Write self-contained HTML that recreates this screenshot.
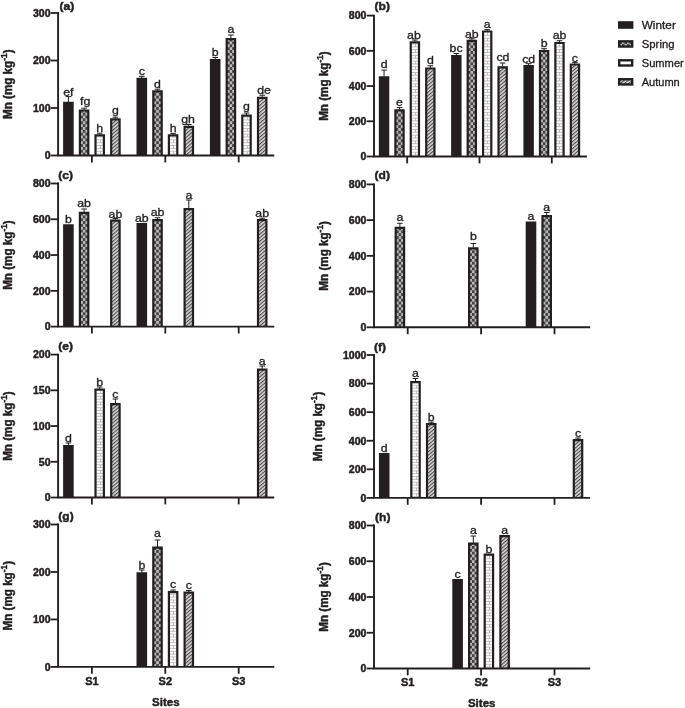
<!DOCTYPE html>
<html><head><meta charset="utf-8"><title>Mn concentration by site and season</title>
<style>html,body{margin:0;padding:0;background:#fff}svg{display:block;will-change:transform}text{font-family:"Liberation Sans",sans-serif;fill:#231f20;stroke:#231f20;stroke-width:0.32px;stroke-linejoin:round}.tk,.xl,.pl,.al{stroke-width:0.45px}.tk{font-size:10px;font-weight:bold;text-anchor:end}.xl{font-size:10px;font-weight:bold;text-anchor:middle}.pl{font-size:11.6px;font-weight:bold}.al{font-size:11.5px;font-weight:bold;text-anchor:middle}.lt{font-size:11.2px;text-anchor:middle}.lg{font-size:11.5px}</style></head><body>
<svg width="685" height="708" viewBox="0 0 685 708">
<defs>
<pattern id="pSpring" x="-1.275" y="0" width="5.1" height="5.7" patternUnits="userSpaceOnUse"><rect width="5.1" height="5.7" fill="#424242"/><rect x="0" y="0" width="2.55" height="2.85" fill="#b9b9b9"/><rect x="2.55" y="2.85" width="2.55" height="2.85" fill="#b9b9b9"/></pattern>
<pattern id="pSummer" x="-3" y="0" width="6" height="5.6" patternUnits="userSpaceOnUse"><rect width="6" height="5.6" fill="#fff"/><path d="M0 0.4H6M0 3.2H6" stroke="#909090" stroke-width="0.8" fill="none"/><path d="M3 0.4V3.2M0 3.2V5.6M6 3.2V5.6" stroke="#909090" stroke-width="0.8" fill="none"/></pattern>
<pattern id="pAutumn" width="2.7" height="2.7" patternUnits="userSpaceOnUse" patternTransform="rotate(-40)"><rect width="2.7" height="2.7" fill="#d8d8d8"/><rect width="2.7" height="1.1" fill="#4a4a4a"/></pattern>
</defs>
<rect width="685" height="708" fill="#fff"/>
<g>
<g>
<path d="M68.4 102.2V96.6M65.6 96.6H71.2" stroke="#231f20" stroke-width="1.0" fill="none"/>
<g transform="translate(68.4 155.5)"><rect x="-4.2" y="-52.7" width="8.4" height="52.7" fill="#231f20"/><path d="M-4.2 0V-52.7H4.2V0" fill="none" stroke="#231f20" stroke-width="2.2"/></g>
<text class="lt" transform="translate(68.4 95.9) scale(1.1 1)">ef</text>
<path d="M84.1 109.9V108.2M81.3 108.2H86.9" stroke="#231f20" stroke-width="1.0" fill="none"/>
<g transform="translate(84.1 155.5)"><rect x="-4.2" y="-45" width="8.4" height="45" fill="url(#pSpring)"/><path d="M-4.2 0V-45H4.2V0" fill="none" stroke="#231f20" stroke-width="2.2"/></g>
<text class="lt" transform="translate(85.1 105.25) scale(1.1 1)">fg</text>
<path d="M99.7 134.7V133.2M96.9 133.2H102.5" stroke="#231f20" stroke-width="1.0" fill="none"/>
<g transform="translate(99.7 155.5)"><rect x="-4.2" y="-20.2" width="8.4" height="20.2" fill="#fff"/><path d="M-4.2 -1.4H4.2M0.8 -1.4V-4.25M-4.2 -4.25H4.2M-4.2 -7.1H4.2M0.8 -7.1V-9.95M-4.2 -9.95H4.2M-4.2 -12.8H4.2M0.8 -12.8V-15.65M-4.2 -15.65H4.2M-4.2 -18.5H4.2M0.8 -18.5V-19.1" stroke="#b0b0b0" stroke-width="0.8" fill="none"/><path d="M-4.2 0V-20.2H4.2V0" fill="none" stroke="#231f20" stroke-width="2.2"/></g>
<text class="lt" transform="translate(99.7 131.5) scale(1.1 1)">h</text>
<path d="M115.4 118.7V117.2M112.6 117.2H118.2" stroke="#231f20" stroke-width="1.0" fill="none"/>
<g transform="translate(115.4 155.5)"><rect x="-4.2" y="-36.2" width="8.4" height="36.2" fill="url(#pAutumn)"/><path d="M-4.2 0V-36.2H4.2V0" fill="none" stroke="#231f20" stroke-width="2.2"/></g>
<text class="lt" transform="translate(115.4 114) scale(1.1 1)">g</text>
<path d="M141.8 78.3V76.3M139 76.3H144.6" stroke="#231f20" stroke-width="1.0" fill="none"/>
<g transform="translate(141.8 155.5)"><rect x="-4.2" y="-76.6" width="8.4" height="76.6" fill="#231f20"/><path d="M-4.2 0V-76.6H4.2V0" fill="none" stroke="#231f20" stroke-width="2.2"/></g>
<text class="lt" transform="translate(141.8 75.1) scale(1.1 1)">c</text>
<path d="M157.5 90.7V89.2M154.7 89.2H160.3" stroke="#231f20" stroke-width="1.0" fill="none"/>
<g transform="translate(157.5 155.5)"><rect x="-4.2" y="-64.2" width="8.4" height="64.2" fill="url(#pSpring)"/><path d="M-4.2 0V-64.2H4.2V0" fill="none" stroke="#231f20" stroke-width="2.2"/></g>
<text class="lt" transform="translate(157.5 88) scale(1.1 1)">d</text>
<path d="M173.1 134.7V133.4M170.3 133.4H175.9" stroke="#231f20" stroke-width="1.0" fill="none"/>
<g transform="translate(173.1 155.5)"><rect x="-4.2" y="-20.2" width="8.4" height="20.2" fill="#fff"/><path d="M-4.2 -1.4H4.2M0.4 -1.4V-4.25M-4.2 -4.25H4.2M-4.2 -7.1H4.2M0.4 -7.1V-9.95M-4.2 -9.95H4.2M-4.2 -12.8H4.2M0.4 -12.8V-15.65M-4.2 -15.65H4.2M-4.2 -18.5H4.2M0.4 -18.5V-19.1" stroke="#b0b0b0" stroke-width="0.8" fill="none"/><path d="M-4.2 0V-20.2H4.2V0" fill="none" stroke="#231f20" stroke-width="2.2"/></g>
<text class="lt" transform="translate(173.1 132.2) scale(1.1 1)">h</text>
<path d="M188.8 126.2V124.5M186 124.5H191.6" stroke="#231f20" stroke-width="1.0" fill="none"/>
<g transform="translate(188.8 155.5)"><rect x="-4.2" y="-28.7" width="8.4" height="28.7" fill="url(#pAutumn)"/><path d="M-4.2 0V-28.7H4.2V0" fill="none" stroke="#231f20" stroke-width="2.2"/></g>
<text class="lt" transform="translate(188 123.3) scale(1.1 1)">gh</text>
<path d="M215.2 59.5V57.5M212.4 57.5H218" stroke="#231f20" stroke-width="1.0" fill="none"/>
<g transform="translate(215.2 155.5)"><rect x="-4.2" y="-95.4" width="8.4" height="95.4" fill="#231f20"/><path d="M-4.2 0V-95.4H4.2V0" fill="none" stroke="#231f20" stroke-width="2.2"/></g>
<text class="lt" transform="translate(215.2 56.3) scale(1.1 1)">b</text>
<path d="M230.9 38.5V35M228.1 35H233.7" stroke="#231f20" stroke-width="1.0" fill="none"/>
<g transform="translate(230.9 155.5)"><rect x="-4.2" y="-116.4" width="8.4" height="116.4" fill="url(#pSpring)"/><path d="M-4.2 0V-116.4H4.2V0" fill="none" stroke="#231f20" stroke-width="2.2"/></g>
<text class="lt" transform="translate(230.9 33) scale(1.1 1)">a</text>
<path d="M246.5 115V113M243.7 113H249.3" stroke="#231f20" stroke-width="1.0" fill="none"/>
<g transform="translate(246.5 155.5)"><rect x="-4.2" y="-39.9" width="8.4" height="39.9" fill="#fff"/><path d="M-4.2 -1.4H4.2M1 -1.4V-4.25M-4.2 -4.25H4.2M-4.2 -7.1H4.2M1 -7.1V-9.95M-4.2 -9.95H4.2M-4.2 -12.8H4.2M1 -12.8V-15.65M-4.2 -15.65H4.2M-4.2 -18.5H4.2M1 -18.5V-21.35M-4.2 -21.35H4.2M-4.2 -24.2H4.2M1 -24.2V-27.05M-4.2 -27.05H4.2M-4.2 -29.9H4.2M1 -29.9V-32.75M-4.2 -32.75H4.2M-4.2 -35.6H4.2M1 -35.6V-38.45M-4.2 -38.45H4.2" stroke="#b0b0b0" stroke-width="0.8" fill="none"/><path d="M-4.2 0V-39.9H4.2V0" fill="none" stroke="#231f20" stroke-width="2.2"/></g>
<text class="lt" transform="translate(246.5 109.7) scale(1.1 1)">g</text>
<path d="M262.2 97.2V95.2M259.4 95.2H265" stroke="#231f20" stroke-width="1.0" fill="none"/>
<g transform="translate(262.2 155.5)"><rect x="-4.2" y="-57.7" width="8.4" height="57.7" fill="url(#pAutumn)"/><path d="M-4.2 0V-57.7H4.2V0" fill="none" stroke="#231f20" stroke-width="2.2"/></g>
<text class="lt" transform="translate(264.1 94.2) scale(1.1 1)">de</text>
<path d="M58.1 13V155.5H273.3" stroke="#231f20" stroke-width="1.9" fill="none" stroke-linecap="square"/>
<path d="M50.8 13H58.1" stroke="#231f20" stroke-width="1.8"/>
<text class="tk" transform="translate(50.6 16.85) scale(1.06 1)">300</text>
<path d="M50.8 60.5H58.1" stroke="#231f20" stroke-width="1.8"/>
<text class="tk" transform="translate(50.6 64.35) scale(1.06 1)">200</text>
<path d="M50.8 108H58.1" stroke="#231f20" stroke-width="1.8"/>
<text class="tk" transform="translate(50.6 111.85) scale(1.06 1)">100</text>
<path d="M50.8 155.5H58.1" stroke="#231f20" stroke-width="1.8"/>
<text class="tk" transform="translate(50.6 159.35) scale(1.06 1)">0</text>
<path d="M91.9 155.5V162.4" stroke="#231f20" stroke-width="1.8"/>
<path d="M165.3 155.5V162.4" stroke="#231f20" stroke-width="1.8"/>
<path d="M238.7 155.5V162.4" stroke="#231f20" stroke-width="1.8"/>
<text class="pl" transform="translate(59.6 9.8) scale(1.04 1)">(a)</text>
<text class="al" style="font-size:11.9px" transform="translate(11.7 84.25) rotate(-90) scale(0.98 1)">Mn (mg kg<tspan font-size="8.6" dy="-4.8">-1</tspan><tspan dy="4.8">)</tspan></text>
</g>
<g>
<path d="M384.05 76.8V70.1M381.25 70.1H386.85" stroke="#231f20" stroke-width="1.0" fill="none"/>
<g transform="translate(384.05 156.5)"><rect x="-4.12" y="-79.1" width="8.24" height="79.1" fill="#231f20"/><path d="M-4.12 0V-79.1H4.12V0" fill="none" stroke="#231f20" stroke-width="2.2"/></g>
<text class="lt" transform="translate(384.05 68.4) scale(1.1 1)">d</text>
<path d="M399.51 109.8V107.6M396.71 107.6H402.31" stroke="#231f20" stroke-width="1.0" fill="none"/>
<g transform="translate(399.51 156.5)"><rect x="-4.12" y="-46.1" width="8.24" height="46.1" fill="url(#pSpring)"/><path d="M-4.12 0V-46.1H4.12V0" fill="none" stroke="#231f20" stroke-width="2.2"/></g>
<text class="lt" transform="translate(399.51 105.6) scale(1.1 1)">e</text>
<path d="M414.88 41.7V40M412.08 40H417.68" stroke="#231f20" stroke-width="1.0" fill="none"/>
<g transform="translate(414.88 156.5)"><rect x="-4.12" y="-114.2" width="8.24" height="114.2" fill="#fff"/><path d="M-4.12 -1.4H4.12M0.62 -1.4V-4.25M-4.12 -4.25H4.12M-4.12 -7.1H4.12M0.62 -7.1V-9.95M-4.12 -9.95H4.12M-4.12 -12.8H4.12M0.62 -12.8V-15.65M-4.12 -15.65H4.12M-4.12 -18.5H4.12M0.62 -18.5V-21.35M-4.12 -21.35H4.12M-4.12 -24.2H4.12M0.62 -24.2V-27.05M-4.12 -27.05H4.12M-4.12 -29.9H4.12M0.62 -29.9V-32.75M-4.12 -32.75H4.12M-4.12 -35.6H4.12M0.62 -35.6V-38.45M-4.12 -38.45H4.12M-4.12 -41.3H4.12M0.62 -41.3V-44.15M-4.12 -44.15H4.12M-4.12 -47H4.12M0.62 -47V-49.85M-4.12 -49.85H4.12M-4.12 -52.7H4.12M0.62 -52.7V-55.55M-4.12 -55.55H4.12M-4.12 -58.4H4.12M0.62 -58.4V-61.25M-4.12 -61.25H4.12M-4.12 -64.1H4.12M0.62 -64.1V-66.95M-4.12 -66.95H4.12M-4.12 -69.8H4.12M0.62 -69.8V-72.65M-4.12 -72.65H4.12M-4.12 -75.5H4.12M0.62 -75.5V-78.35M-4.12 -78.35H4.12M-4.12 -81.2H4.12M0.62 -81.2V-84.05M-4.12 -84.05H4.12M-4.12 -86.9H4.12M0.62 -86.9V-89.75M-4.12 -89.75H4.12M-4.12 -92.6H4.12M0.62 -92.6V-95.45M-4.12 -95.45H4.12M-4.12 -98.3H4.12M0.62 -98.3V-101.15M-4.12 -101.15H4.12M-4.12 -104H4.12M0.62 -104V-106.85M-4.12 -106.85H4.12M-4.12 -109.7H4.12M0.62 -109.7V-112.55M-4.12 -112.55H4.12" stroke="#b0b0b0" stroke-width="0.8" fill="none"/><path d="M-4.12 0V-114.2H4.12V0" fill="none" stroke="#231f20" stroke-width="2.2"/></g>
<text class="lt" transform="translate(413.88 38.6) scale(1.1 1)">ab</text>
<path d="M430.34 67.9V65.8M427.54 65.8H433.14" stroke="#231f20" stroke-width="1.0" fill="none"/>
<g transform="translate(430.34 156.5)"><rect x="-4.12" y="-88" width="8.24" height="88" fill="url(#pAutumn)"/><path d="M-4.12 0V-88H4.12V0" fill="none" stroke="#231f20" stroke-width="2.2"/></g>
<text class="lt" transform="translate(430.34 64.3) scale(1.1 1)">d</text>
<path d="M456.35 55.4V53.5M453.55 53.5H459.15" stroke="#231f20" stroke-width="1.0" fill="none"/>
<g transform="translate(456.35 156.5)"><rect x="-4.12" y="-100.5" width="8.24" height="100.5" fill="#231f20"/><path d="M-4.12 0V-100.5H4.12V0" fill="none" stroke="#231f20" stroke-width="2.2"/></g>
<text class="lt" transform="translate(456.05 51.8) scale(1.1 1)">bc</text>
<path d="M471.81 40.3V38.8M469.01 38.8H474.61" stroke="#231f20" stroke-width="1.0" fill="none"/>
<g transform="translate(471.81 156.5)"><rect x="-4.12" y="-115.6" width="8.24" height="115.6" fill="url(#pSpring)"/><path d="M-4.12 0V-115.6H4.12V0" fill="none" stroke="#231f20" stroke-width="2.2"/></g>
<text class="lt" transform="translate(471.81 37.6) scale(1.1 1)">ab</text>
<path d="M487.18 30.9V29.6M484.38 29.6H489.98" stroke="#231f20" stroke-width="1.0" fill="none"/>
<g transform="translate(487.18 156.5)"><rect x="-4.12" y="-125" width="8.24" height="125" fill="#fff"/><path d="M-4.12 -1.4H4.12M0.32 -1.4V-4.25M-4.12 -4.25H4.12M-4.12 -7.1H4.12M0.32 -7.1V-9.95M-4.12 -9.95H4.12M-4.12 -12.8H4.12M0.32 -12.8V-15.65M-4.12 -15.65H4.12M-4.12 -18.5H4.12M0.32 -18.5V-21.35M-4.12 -21.35H4.12M-4.12 -24.2H4.12M0.32 -24.2V-27.05M-4.12 -27.05H4.12M-4.12 -29.9H4.12M0.32 -29.9V-32.75M-4.12 -32.75H4.12M-4.12 -35.6H4.12M0.32 -35.6V-38.45M-4.12 -38.45H4.12M-4.12 -41.3H4.12M0.32 -41.3V-44.15M-4.12 -44.15H4.12M-4.12 -47H4.12M0.32 -47V-49.85M-4.12 -49.85H4.12M-4.12 -52.7H4.12M0.32 -52.7V-55.55M-4.12 -55.55H4.12M-4.12 -58.4H4.12M0.32 -58.4V-61.25M-4.12 -61.25H4.12M-4.12 -64.1H4.12M0.32 -64.1V-66.95M-4.12 -66.95H4.12M-4.12 -69.8H4.12M0.32 -69.8V-72.65M-4.12 -72.65H4.12M-4.12 -75.5H4.12M0.32 -75.5V-78.35M-4.12 -78.35H4.12M-4.12 -81.2H4.12M0.32 -81.2V-84.05M-4.12 -84.05H4.12M-4.12 -86.9H4.12M0.32 -86.9V-89.75M-4.12 -89.75H4.12M-4.12 -92.6H4.12M0.32 -92.6V-95.45M-4.12 -95.45H4.12M-4.12 -98.3H4.12M0.32 -98.3V-101.15M-4.12 -101.15H4.12M-4.12 -104H4.12M0.32 -104V-106.85M-4.12 -106.85H4.12M-4.12 -109.7H4.12M0.32 -109.7V-112.55M-4.12 -112.55H4.12M-4.12 -115.4H4.12M0.32 -115.4V-118.25M-4.12 -118.25H4.12M-4.12 -121.1H4.12M0.32 -121.1V-123.9" stroke="#b0b0b0" stroke-width="0.8" fill="none"/><path d="M-4.12 0V-125H4.12V0" fill="none" stroke="#231f20" stroke-width="2.2"/></g>
<text class="lt" transform="translate(487.18 28.4) scale(1.1 1)">a</text>
<path d="M502.64 66.7V63M499.84 63H505.44" stroke="#231f20" stroke-width="1.0" fill="none"/>
<g transform="translate(502.64 156.5)"><rect x="-4.12" y="-89.2" width="8.24" height="89.2" fill="url(#pAutumn)"/><path d="M-4.12 0V-89.2H4.12V0" fill="none" stroke="#231f20" stroke-width="2.2"/></g>
<text class="lt" transform="translate(502.94 61) scale(1.1 1)">cd</text>
<path d="M528.64 65.4V63.7M525.85 63.7H531.44" stroke="#231f20" stroke-width="1.0" fill="none"/>
<g transform="translate(528.64 156.5)"><rect x="-4.12" y="-90.5" width="8.24" height="90.5" fill="#231f20"/><path d="M-4.12 0V-90.5H4.12V0" fill="none" stroke="#231f20" stroke-width="2.2"/></g>
<text class="lt" transform="translate(528.64 62.5) scale(1.1 1)">cd</text>
<path d="M544.11 50.4V48.7M541.31 48.7H546.91" stroke="#231f20" stroke-width="1.0" fill="none"/>
<g transform="translate(544.11 156.5)"><rect x="-4.12" y="-105.5" width="8.24" height="105.5" fill="url(#pSpring)"/><path d="M-4.12 0V-105.5H4.12V0" fill="none" stroke="#231f20" stroke-width="2.2"/></g>
<text class="lt" transform="translate(544.11 47) scale(1.1 1)">b</text>
<path d="M559.48 42.4V40.7M556.68 40.7H562.28" stroke="#231f20" stroke-width="1.0" fill="none"/>
<g transform="translate(559.48 156.5)"><rect x="-4.12" y="-113.5" width="8.24" height="113.5" fill="#fff"/><path d="M-4.12 -1.4H4.12M0.02 -1.4V-4.25M-4.12 -4.25H4.12M-4.12 -7.1H4.12M0.02 -7.1V-9.95M-4.12 -9.95H4.12M-4.12 -12.8H4.12M0.02 -12.8V-15.65M-4.12 -15.65H4.12M-4.12 -18.5H4.12M0.02 -18.5V-21.35M-4.12 -21.35H4.12M-4.12 -24.2H4.12M0.02 -24.2V-27.05M-4.12 -27.05H4.12M-4.12 -29.9H4.12M0.02 -29.9V-32.75M-4.12 -32.75H4.12M-4.12 -35.6H4.12M0.02 -35.6V-38.45M-4.12 -38.45H4.12M-4.12 -41.3H4.12M0.02 -41.3V-44.15M-4.12 -44.15H4.12M-4.12 -47H4.12M0.02 -47V-49.85M-4.12 -49.85H4.12M-4.12 -52.7H4.12M0.02 -52.7V-55.55M-4.12 -55.55H4.12M-4.12 -58.4H4.12M0.02 -58.4V-61.25M-4.12 -61.25H4.12M-4.12 -64.1H4.12M0.02 -64.1V-66.95M-4.12 -66.95H4.12M-4.12 -69.8H4.12M0.02 -69.8V-72.65M-4.12 -72.65H4.12M-4.12 -75.5H4.12M0.02 -75.5V-78.35M-4.12 -78.35H4.12M-4.12 -81.2H4.12M0.02 -81.2V-84.05M-4.12 -84.05H4.12M-4.12 -86.9H4.12M0.02 -86.9V-89.75M-4.12 -89.75H4.12M-4.12 -92.6H4.12M0.02 -92.6V-95.45M-4.12 -95.45H4.12M-4.12 -98.3H4.12M0.02 -98.3V-101.15M-4.12 -101.15H4.12M-4.12 -104H4.12M0.02 -104V-106.85M-4.12 -106.85H4.12M-4.12 -109.7H4.12M0.02 -109.7V-112.4" stroke="#b0b0b0" stroke-width="0.8" fill="none"/><path d="M-4.12 0V-113.5H4.12V0" fill="none" stroke="#231f20" stroke-width="2.2"/></g>
<text class="lt" transform="translate(559.48 38.8) scale(1.1 1)">ab</text>
<path d="M574.94 63.9V62.4M572.14 62.4H577.74" stroke="#231f20" stroke-width="1.0" fill="none"/>
<g transform="translate(574.94 156.5)"><rect x="-4.12" y="-92" width="8.24" height="92" fill="url(#pAutumn)"/><path d="M-4.12 0V-92H4.12V0" fill="none" stroke="#231f20" stroke-width="2.2"/></g>
<text class="lt" transform="translate(574.94 62.1) scale(1.1 1)">c</text>
<path d="M374 15.6V156.5H585.97" stroke="#231f20" stroke-width="1.9" fill="none" stroke-linecap="square"/>
<path d="M366.7 15.6H374" stroke="#231f20" stroke-width="1.8"/>
<text class="tk" transform="translate(366.5 19.45) scale(1.06 1)">800</text>
<path d="M366.7 50.83H374" stroke="#231f20" stroke-width="1.8"/>
<text class="tk" transform="translate(366.5 54.68) scale(1.06 1)">600</text>
<path d="M366.7 86.05H374" stroke="#231f20" stroke-width="1.8"/>
<text class="tk" transform="translate(366.5 89.9) scale(1.06 1)">400</text>
<path d="M366.7 121.28H374" stroke="#231f20" stroke-width="1.8"/>
<text class="tk" transform="translate(366.5 125.12) scale(1.06 1)">200</text>
<path d="M366.7 156.5H374" stroke="#231f20" stroke-width="1.8"/>
<text class="tk" transform="translate(366.5 160.35) scale(1.06 1)">0</text>
<path d="M407.19 156.5V163.4" stroke="#231f20" stroke-width="1.8"/>
<path d="M479.49 156.5V163.4" stroke="#231f20" stroke-width="1.8"/>
<path d="M551.79 156.5V163.4" stroke="#231f20" stroke-width="1.8"/>
<text class="pl" transform="translate(374.6 10.3) scale(1.04 1)">(b)</text>
<text class="al" style="font-size:11.9px" transform="translate(327.6 86.05) rotate(-90) scale(0.98 1)">Mn (mg kg<tspan font-size="8.6" dy="-4.8">-1</tspan><tspan dy="4.8">)</tspan></text>
</g>
<g>
<g transform="translate(68.4 326.6)"><rect x="-4.2" y="-101.2" width="8.4" height="101.2" fill="#231f20"/><path d="M-4.2 0V-101.2H4.2V0" fill="none" stroke="#231f20" stroke-width="2.2"/></g>
<text class="lt" transform="translate(68.4 223.1) scale(1.1 1)">b</text>
<path d="M84.1 212.3V209M81.3 209H86.9" stroke="#231f20" stroke-width="1.0" fill="none"/>
<g transform="translate(84.1 326.6)"><rect x="-4.2" y="-113.7" width="8.4" height="113.7" fill="url(#pSpring)"/><path d="M-4.2 0V-113.7H4.2V0" fill="none" stroke="#231f20" stroke-width="2.2"/></g>
<text class="lt" transform="translate(84.1 206.6) scale(1.1 1)">ab</text>
<path d="M115.4 220V218.6M112.6 218.6H118.2" stroke="#231f20" stroke-width="1.0" fill="none"/>
<g transform="translate(115.4 326.6)"><rect x="-4.2" y="-106" width="8.4" height="106" fill="url(#pAutumn)"/><path d="M-4.2 0V-106H4.2V0" fill="none" stroke="#231f20" stroke-width="2.2"/></g>
<text class="lt" transform="translate(115.4 217.8) scale(1.1 1)">ab</text>
<g transform="translate(141.8 326.6)"><rect x="-4.2" y="-102.5" width="8.4" height="102.5" fill="#231f20"/><path d="M-4.2 0V-102.5H4.2V0" fill="none" stroke="#231f20" stroke-width="2.2"/></g>
<text class="lt" transform="translate(141.8 221.8) scale(1.1 1)">ab</text>
<path d="M157.5 219.5V217.8M154.7 217.8H160.3" stroke="#231f20" stroke-width="1.0" fill="none"/>
<g transform="translate(157.5 326.6)"><rect x="-4.2" y="-106.5" width="8.4" height="106.5" fill="url(#pSpring)"/><path d="M-4.2 0V-106.5H4.2V0" fill="none" stroke="#231f20" stroke-width="2.2"/></g>
<text class="lt" transform="translate(157.5 215.9) scale(1.1 1)">ab</text>
<path d="M188.8 208.5V200M186 200H191.6" stroke="#231f20" stroke-width="1.0" fill="none"/>
<g transform="translate(188.8 326.6)"><rect x="-4.2" y="-117.5" width="8.4" height="117.5" fill="url(#pAutumn)"/><path d="M-4.2 0V-117.5H4.2V0" fill="none" stroke="#231f20" stroke-width="2.2"/></g>
<text class="lt" transform="translate(188.8 198.8) scale(1.1 1)">a</text>
<path d="M262.2 219.5V218.2M259.4 218.2H265" stroke="#231f20" stroke-width="1.0" fill="none"/>
<g transform="translate(262.2 326.6)"><rect x="-4.2" y="-106.5" width="8.4" height="106.5" fill="url(#pAutumn)"/><path d="M-4.2 0V-106.5H4.2V0" fill="none" stroke="#231f20" stroke-width="2.2"/></g>
<text class="lt" transform="translate(262.2 217.4) scale(1.1 1)">ab</text>
<path d="M58.1 183.5V326.6H273.3" stroke="#231f20" stroke-width="1.9" fill="none" stroke-linecap="square"/>
<path d="M50.8 183.5H58.1" stroke="#231f20" stroke-width="1.8"/>
<text class="tk" transform="translate(50.6 187.35) scale(1.06 1)">800</text>
<path d="M50.8 219.28H58.1" stroke="#231f20" stroke-width="1.8"/>
<text class="tk" transform="translate(50.6 223.12) scale(1.06 1)">600</text>
<path d="M50.8 255.05H58.1" stroke="#231f20" stroke-width="1.8"/>
<text class="tk" transform="translate(50.6 258.9) scale(1.06 1)">400</text>
<path d="M50.8 290.83H58.1" stroke="#231f20" stroke-width="1.8"/>
<text class="tk" transform="translate(50.6 294.68) scale(1.06 1)">200</text>
<path d="M50.8 326.6H58.1" stroke="#231f20" stroke-width="1.8"/>
<text class="tk" transform="translate(50.6 330.45) scale(1.06 1)">0</text>
<path d="M91.9 326.6V333.5" stroke="#231f20" stroke-width="1.8"/>
<path d="M165.3 326.6V333.5" stroke="#231f20" stroke-width="1.8"/>
<path d="M238.7 326.6V333.5" stroke="#231f20" stroke-width="1.8"/>
<text class="pl" transform="translate(58.3 179.4) scale(1.04 1)">(c)</text>
<text class="al" style="font-size:11.9px" transform="translate(11.7 255.05) rotate(-90) scale(0.98 1)">Mn (mg kg<tspan font-size="8.6" dy="-4.8">-1</tspan><tspan dy="4.8">)</tspan></text>
</g>
<g>
<path d="M399.9 227.3V223.3M397.1 223.3H402.7" stroke="#231f20" stroke-width="1.0" fill="none"/>
<g transform="translate(399.9 327.3)"><rect x="-4.2" y="-99.4" width="8.4" height="99.4" fill="url(#pSpring)"/><path d="M-4.2 0V-99.4H4.2V0" fill="none" stroke="#231f20" stroke-width="2.2"/></g>
<text class="lt" transform="translate(399.9 220.7) scale(1.1 1)">a</text>
<path d="M473.3 247.8V243.5M470.5 243.5H476.1" stroke="#231f20" stroke-width="1.0" fill="none"/>
<g transform="translate(473.3 327.3)"><rect x="-4.2" y="-78.9" width="8.4" height="78.9" fill="url(#pSpring)"/><path d="M-4.2 0V-78.9H4.2V0" fill="none" stroke="#231f20" stroke-width="2.2"/></g>
<text class="lt" transform="translate(473.3 240.1) scale(1.1 1)">b</text>
<g transform="translate(531 327.3)"><rect x="-4.2" y="-104.7" width="8.4" height="104.7" fill="#231f20"/><path d="M-4.2 0V-104.7H4.2V0" fill="none" stroke="#231f20" stroke-width="2.2"/></g>
<text class="lt" transform="translate(531 220.3) scale(1.1 1)">a</text>
<path d="M546.7 215.5V212.5M543.9 212.5H549.5" stroke="#231f20" stroke-width="1.0" fill="none"/>
<g transform="translate(546.7 327.3)"><rect x="-4.2" y="-111.2" width="8.4" height="111.2" fill="url(#pSpring)"/><path d="M-4.2 0V-111.2H4.2V0" fill="none" stroke="#231f20" stroke-width="2.2"/></g>
<text class="lt" transform="translate(546.7 211.3) scale(1.1 1)">a</text>
<path d="M374 184.4V327.3H589.2" stroke="#231f20" stroke-width="1.9" fill="none" stroke-linecap="square"/>
<path d="M366.7 184.4H374" stroke="#231f20" stroke-width="1.8"/>
<text class="tk" transform="translate(366.5 188.25) scale(1.06 1)">800</text>
<path d="M366.7 220.12H374" stroke="#231f20" stroke-width="1.8"/>
<text class="tk" transform="translate(366.5 223.97) scale(1.06 1)">600</text>
<path d="M366.7 255.85H374" stroke="#231f20" stroke-width="1.8"/>
<text class="tk" transform="translate(366.5 259.7) scale(1.06 1)">400</text>
<path d="M366.7 291.58H374" stroke="#231f20" stroke-width="1.8"/>
<text class="tk" transform="translate(366.5 295.43) scale(1.06 1)">200</text>
<path d="M366.7 327.3H374" stroke="#231f20" stroke-width="1.8"/>
<text class="tk" transform="translate(366.5 331.15) scale(1.06 1)">0</text>
<path d="M407.7 327.3V334.2" stroke="#231f20" stroke-width="1.8"/>
<path d="M481.1 327.3V334.2" stroke="#231f20" stroke-width="1.8"/>
<path d="M554.5 327.3V334.2" stroke="#231f20" stroke-width="1.8"/>
<text class="pl" transform="translate(374.5 179.2) scale(1.04 1)">(d)</text>
<text class="al" style="font-size:11.9px" transform="translate(327.6 255.85) rotate(-90) scale(0.98 1)">Mn (mg kg<tspan font-size="8.6" dy="-4.8">-1</tspan><tspan dy="4.8">)</tspan></text>
</g>
<g>
<path d="M68.4 445.5V443M65.6 443H71.2" stroke="#231f20" stroke-width="1.0" fill="none"/>
<g transform="translate(68.4 497.5)"><rect x="-4.2" y="-51.4" width="8.4" height="51.4" fill="#231f20"/><path d="M-4.2 0V-51.4H4.2V0" fill="none" stroke="#231f20" stroke-width="2.2"/></g>
<text class="lt" transform="translate(68.4 441.8) scale(1.1 1)">d</text>
<path d="M99.7 389V387M96.9 387H102.5" stroke="#231f20" stroke-width="1.0" fill="none"/>
<g transform="translate(99.7 497.5)"><rect x="-4.2" y="-107.9" width="8.4" height="107.9" fill="#fff"/><path d="M-4.2 -1.4H4.2M0.8 -1.4V-4.25M-4.2 -4.25H4.2M-4.2 -7.1H4.2M0.8 -7.1V-9.95M-4.2 -9.95H4.2M-4.2 -12.8H4.2M0.8 -12.8V-15.65M-4.2 -15.65H4.2M-4.2 -18.5H4.2M0.8 -18.5V-21.35M-4.2 -21.35H4.2M-4.2 -24.2H4.2M0.8 -24.2V-27.05M-4.2 -27.05H4.2M-4.2 -29.9H4.2M0.8 -29.9V-32.75M-4.2 -32.75H4.2M-4.2 -35.6H4.2M0.8 -35.6V-38.45M-4.2 -38.45H4.2M-4.2 -41.3H4.2M0.8 -41.3V-44.15M-4.2 -44.15H4.2M-4.2 -47H4.2M0.8 -47V-49.85M-4.2 -49.85H4.2M-4.2 -52.7H4.2M0.8 -52.7V-55.55M-4.2 -55.55H4.2M-4.2 -58.4H4.2M0.8 -58.4V-61.25M-4.2 -61.25H4.2M-4.2 -64.1H4.2M0.8 -64.1V-66.95M-4.2 -66.95H4.2M-4.2 -69.8H4.2M0.8 -69.8V-72.65M-4.2 -72.65H4.2M-4.2 -75.5H4.2M0.8 -75.5V-78.35M-4.2 -78.35H4.2M-4.2 -81.2H4.2M0.8 -81.2V-84.05M-4.2 -84.05H4.2M-4.2 -86.9H4.2M0.8 -86.9V-89.75M-4.2 -89.75H4.2M-4.2 -92.6H4.2M0.8 -92.6V-95.45M-4.2 -95.45H4.2M-4.2 -98.3H4.2M0.8 -98.3V-101.15M-4.2 -101.15H4.2M-4.2 -104H4.2M0.8 -104V-106.8" stroke="#b0b0b0" stroke-width="0.8" fill="none"/><path d="M-4.2 0V-107.9H4.2V0" fill="none" stroke="#231f20" stroke-width="2.2"/></g>
<text class="lt" transform="translate(99.7 385.8) scale(1.1 1)">b</text>
<path d="M115.4 403.5V399M112.6 399H118.2" stroke="#231f20" stroke-width="1.0" fill="none"/>
<g transform="translate(115.4 497.5)"><rect x="-4.2" y="-93.4" width="8.4" height="93.4" fill="url(#pAutumn)"/><path d="M-4.2 0V-93.4H4.2V0" fill="none" stroke="#231f20" stroke-width="2.2"/></g>
<text class="lt" transform="translate(115.4 397.8) scale(1.1 1)">c</text>
<path d="M262.2 369V366M259.4 366H265" stroke="#231f20" stroke-width="1.0" fill="none"/>
<g transform="translate(262.2 497.5)"><rect x="-4.2" y="-127.9" width="8.4" height="127.9" fill="url(#pAutumn)"/><path d="M-4.2 0V-127.9H4.2V0" fill="none" stroke="#231f20" stroke-width="2.2"/></g>
<text class="lt" transform="translate(262.2 364.8) scale(1.1 1)">a</text>
<path d="M58.1 354.6V497.5H273.3" stroke="#231f20" stroke-width="1.9" fill="none" stroke-linecap="square"/>
<path d="M50.8 354.6H58.1" stroke="#231f20" stroke-width="1.8"/>
<text class="tk" transform="translate(50.6 358.45) scale(1.06 1)">200</text>
<path d="M50.8 390.33H58.1" stroke="#231f20" stroke-width="1.8"/>
<text class="tk" transform="translate(50.6 394.18) scale(1.06 1)">150</text>
<path d="M50.8 426.05H58.1" stroke="#231f20" stroke-width="1.8"/>
<text class="tk" transform="translate(50.6 429.9) scale(1.06 1)">100</text>
<path d="M50.8 461.77H58.1" stroke="#231f20" stroke-width="1.8"/>
<text class="tk" transform="translate(50.6 465.62) scale(1.06 1)">50</text>
<path d="M50.8 497.5H58.1" stroke="#231f20" stroke-width="1.8"/>
<text class="tk" transform="translate(50.6 501.35) scale(1.06 1)">0</text>
<path d="M91.9 497.5V504.4" stroke="#231f20" stroke-width="1.8"/>
<path d="M165.3 497.5V504.4" stroke="#231f20" stroke-width="1.8"/>
<path d="M238.7 497.5V504.4" stroke="#231f20" stroke-width="1.8"/>
<text class="pl" transform="translate(58.3 349.6) scale(1.04 1)">(e)</text>
<text class="al" style="font-size:11.9px" transform="translate(11.7 426.05) rotate(-90) scale(0.98 1)">Mn (mg kg<tspan font-size="8.6" dy="-4.8">-1</tspan><tspan dy="4.8">)</tspan></text>
</g>
<g>
<g transform="translate(384.2 497.9)"><rect x="-4.2" y="-43.9" width="8.4" height="43.9" fill="#231f20"/><path d="M-4.2 0V-43.9H4.2V0" fill="none" stroke="#231f20" stroke-width="2.2"/></g>
<text class="lt" transform="translate(384.2 452.3) scale(1.1 1)">d</text>
<path d="M415.5 381.5V378.5M412.7 378.5H418.3" stroke="#231f20" stroke-width="1.0" fill="none"/>
<g transform="translate(415.5 497.9)"><rect x="-4.2" y="-115.8" width="8.4" height="115.8" fill="#fff"/><path d="M-4.2 -1.4H4.2M1 -1.4V-4.25M-4.2 -4.25H4.2M-4.2 -7.1H4.2M1 -7.1V-9.95M-4.2 -9.95H4.2M-4.2 -12.8H4.2M1 -12.8V-15.65M-4.2 -15.65H4.2M-4.2 -18.5H4.2M1 -18.5V-21.35M-4.2 -21.35H4.2M-4.2 -24.2H4.2M1 -24.2V-27.05M-4.2 -27.05H4.2M-4.2 -29.9H4.2M1 -29.9V-32.75M-4.2 -32.75H4.2M-4.2 -35.6H4.2M1 -35.6V-38.45M-4.2 -38.45H4.2M-4.2 -41.3H4.2M1 -41.3V-44.15M-4.2 -44.15H4.2M-4.2 -47H4.2M1 -47V-49.85M-4.2 -49.85H4.2M-4.2 -52.7H4.2M1 -52.7V-55.55M-4.2 -55.55H4.2M-4.2 -58.4H4.2M1 -58.4V-61.25M-4.2 -61.25H4.2M-4.2 -64.1H4.2M1 -64.1V-66.95M-4.2 -66.95H4.2M-4.2 -69.8H4.2M1 -69.8V-72.65M-4.2 -72.65H4.2M-4.2 -75.5H4.2M1 -75.5V-78.35M-4.2 -78.35H4.2M-4.2 -81.2H4.2M1 -81.2V-84.05M-4.2 -84.05H4.2M-4.2 -86.9H4.2M1 -86.9V-89.75M-4.2 -89.75H4.2M-4.2 -92.6H4.2M1 -92.6V-95.45M-4.2 -95.45H4.2M-4.2 -98.3H4.2M1 -98.3V-101.15M-4.2 -101.15H4.2M-4.2 -104H4.2M1 -104V-106.85M-4.2 -106.85H4.2M-4.2 -109.7H4.2M1 -109.7V-112.55M-4.2 -112.55H4.2" stroke="#b0b0b0" stroke-width="0.8" fill="none"/><path d="M-4.2 0V-115.8H4.2V0" fill="none" stroke="#231f20" stroke-width="2.2"/></g>
<text class="lt" transform="translate(415.5 377.3) scale(1.1 1)">a</text>
<path d="M431.2 423.6V422.1M428.4 422.1H434" stroke="#231f20" stroke-width="1.0" fill="none"/>
<g transform="translate(431.2 497.9)"><rect x="-4.2" y="-73.7" width="8.4" height="73.7" fill="url(#pAutumn)"/><path d="M-4.2 0V-73.7H4.2V0" fill="none" stroke="#231f20" stroke-width="2.2"/></g>
<text class="lt" transform="translate(431.2 421.3) scale(1.1 1)">b</text>
<path d="M578 439.5V438M575.2 438H580.8" stroke="#231f20" stroke-width="1.0" fill="none"/>
<g transform="translate(578 497.9)"><rect x="-4.2" y="-57.8" width="8.4" height="57.8" fill="url(#pAutumn)"/><path d="M-4.2 0V-57.8H4.2V0" fill="none" stroke="#231f20" stroke-width="2.2"/></g>
<text class="lt" transform="translate(578 436.8) scale(1.1 1)">c</text>
<path d="M374 355V497.9H589.2" stroke="#231f20" stroke-width="1.9" fill="none" stroke-linecap="square"/>
<path d="M366.7 355H374" stroke="#231f20" stroke-width="1.8"/>
<text class="tk" transform="translate(366.5 358.85) scale(1.06 1)">1000</text>
<path d="M366.7 383.58H374" stroke="#231f20" stroke-width="1.8"/>
<text class="tk" transform="translate(366.5 387.43) scale(1.06 1)">800</text>
<path d="M366.7 412.16H374" stroke="#231f20" stroke-width="1.8"/>
<text class="tk" transform="translate(366.5 416.01) scale(1.06 1)">600</text>
<path d="M366.7 440.74H374" stroke="#231f20" stroke-width="1.8"/>
<text class="tk" transform="translate(366.5 444.59) scale(1.06 1)">400</text>
<path d="M366.7 469.32H374" stroke="#231f20" stroke-width="1.8"/>
<text class="tk" transform="translate(366.5 473.17) scale(1.06 1)">200</text>
<path d="M366.7 497.9H374" stroke="#231f20" stroke-width="1.8"/>
<text class="tk" transform="translate(366.5 501.75) scale(1.06 1)">0</text>
<path d="M407.7 497.9V504.8" stroke="#231f20" stroke-width="1.8"/>
<path d="M481.1 497.9V504.8" stroke="#231f20" stroke-width="1.8"/>
<path d="M554.5 497.9V504.8" stroke="#231f20" stroke-width="1.8"/>
<text class="pl" transform="translate(373.9 350.6) scale(1.04 1)">(f)</text>
<text class="al" style="font-size:11.9px" transform="translate(322.2 426.45) rotate(-90) scale(0.98 1)">Mn (mg kg<tspan font-size="8.6" dy="-4.8">-1</tspan><tspan dy="4.8">)</tspan></text>
</g>
<g>
<path d="M141.8 572.7V570M139 570H144.6" stroke="#231f20" stroke-width="1.0" fill="none"/>
<g transform="translate(141.8 666.9)"><rect x="-4.2" y="-93.6" width="8.4" height="93.6" fill="#231f20"/><path d="M-4.2 0V-93.6H4.2V0" fill="none" stroke="#231f20" stroke-width="2.2"/></g>
<text class="lt" transform="translate(141.8 568.8) scale(1.1 1)">b</text>
<path d="M157.5 547.1V540M154.7 540H160.3" stroke="#231f20" stroke-width="1.0" fill="none"/>
<g transform="translate(157.5 666.9)"><rect x="-4.2" y="-119.2" width="8.4" height="119.2" fill="url(#pSpring)"/><path d="M-4.2 0V-119.2H4.2V0" fill="none" stroke="#231f20" stroke-width="2.2"/></g>
<text class="lt" transform="translate(157.5 537.4) scale(1.1 1)">a</text>
<path d="M173.1 591.5V590M170.3 590H175.9" stroke="#231f20" stroke-width="1.0" fill="none"/>
<g transform="translate(173.1 666.9)"><rect x="-4.2" y="-74.8" width="8.4" height="74.8" fill="#fff"/><path d="M-4.2 -1.4H4.2M0.4 -1.4V-4.25M-4.2 -4.25H4.2M-4.2 -7.1H4.2M0.4 -7.1V-9.95M-4.2 -9.95H4.2M-4.2 -12.8H4.2M0.4 -12.8V-15.65M-4.2 -15.65H4.2M-4.2 -18.5H4.2M0.4 -18.5V-21.35M-4.2 -21.35H4.2M-4.2 -24.2H4.2M0.4 -24.2V-27.05M-4.2 -27.05H4.2M-4.2 -29.9H4.2M0.4 -29.9V-32.75M-4.2 -32.75H4.2M-4.2 -35.6H4.2M0.4 -35.6V-38.45M-4.2 -38.45H4.2M-4.2 -41.3H4.2M0.4 -41.3V-44.15M-4.2 -44.15H4.2M-4.2 -47H4.2M0.4 -47V-49.85M-4.2 -49.85H4.2M-4.2 -52.7H4.2M0.4 -52.7V-55.55M-4.2 -55.55H4.2M-4.2 -58.4H4.2M0.4 -58.4V-61.25M-4.2 -61.25H4.2M-4.2 -64.1H4.2M0.4 -64.1V-66.95M-4.2 -66.95H4.2M-4.2 -69.8H4.2M0.4 -69.8V-72.65M-4.2 -72.65H4.2" stroke="#b0b0b0" stroke-width="0.8" fill="none"/><path d="M-4.2 0V-74.8H4.2V0" fill="none" stroke="#231f20" stroke-width="2.2"/></g>
<text class="lt" transform="translate(173.1 587.7) scale(1.1 1)">c</text>
<path d="M188.8 592V590.5M186 590.5H191.6" stroke="#231f20" stroke-width="1.0" fill="none"/>
<g transform="translate(188.8 666.9)"><rect x="-4.2" y="-74.3" width="8.4" height="74.3" fill="url(#pAutumn)"/><path d="M-4.2 0V-74.3H4.2V0" fill="none" stroke="#231f20" stroke-width="2.2"/></g>
<text class="lt" transform="translate(188.8 589.3) scale(1.1 1)">c</text>
<path d="M58.1 524.5V666.9H273.3" stroke="#231f20" stroke-width="1.9" fill="none" stroke-linecap="square"/>
<path d="M50.8 524.5H58.1" stroke="#231f20" stroke-width="1.8"/>
<text class="tk" transform="translate(50.6 528.35) scale(1.06 1)">300</text>
<path d="M50.8 571.97H58.1" stroke="#231f20" stroke-width="1.8"/>
<text class="tk" transform="translate(50.6 575.82) scale(1.06 1)">200</text>
<path d="M50.8 619.43H58.1" stroke="#231f20" stroke-width="1.8"/>
<text class="tk" transform="translate(50.6 623.28) scale(1.06 1)">100</text>
<path d="M50.8 666.9H58.1" stroke="#231f20" stroke-width="1.8"/>
<text class="tk" transform="translate(50.6 670.75) scale(1.06 1)">0</text>
<path d="M91.9 666.9V673.8" stroke="#231f20" stroke-width="1.8"/>
<text class="xl" transform="translate(91.9 685.1) scale(1.1 1)">S1</text>
<path d="M165.3 666.9V673.8" stroke="#231f20" stroke-width="1.8"/>
<text class="xl" transform="translate(165.3 685.1) scale(1.1 1)">S2</text>
<path d="M238.7 666.9V673.8" stroke="#231f20" stroke-width="1.8"/>
<text class="xl" transform="translate(238.7 685.1) scale(1.1 1)">S3</text>
<text class="al" transform="translate(165.8 706.2) scale(1 1)">Sites</text>
<text class="pl" transform="translate(58.3 519.5) scale(1.04 1)">(g)</text>
<text class="al" style="font-size:11.9px" transform="translate(11.7 595.7) rotate(-90) scale(0.98 1)">Mn (mg kg<tspan font-size="8.6" dy="-4.8">-1</tspan><tspan dy="4.8">)</tspan></text>
</g>
<g>
<g transform="translate(457.6 668.5)"><rect x="-4.2" y="-88.4" width="8.4" height="88.4" fill="#231f20"/><path d="M-4.2 0V-88.4H4.2V0" fill="none" stroke="#231f20" stroke-width="2.2"/></g>
<text class="lt" transform="translate(457.6 577.8) scale(1.1 1)">c</text>
<path d="M473.3 543V536M470.5 536H476.1" stroke="#231f20" stroke-width="1.0" fill="none"/>
<g transform="translate(473.3 668.5)"><rect x="-4.2" y="-124.9" width="8.4" height="124.9" fill="url(#pSpring)"/><path d="M-4.2 0V-124.9H4.2V0" fill="none" stroke="#231f20" stroke-width="2.2"/></g>
<text class="lt" transform="translate(473.3 533.7) scale(1.1 1)">a</text>
<g transform="translate(488.9 668.5)"><rect x="-4.2" y="-113.9" width="8.4" height="113.9" fill="#fff"/><path d="M-4.2 -1.4H4.2M0.6 -1.4V-4.25M-4.2 -4.25H4.2M-4.2 -7.1H4.2M0.6 -7.1V-9.95M-4.2 -9.95H4.2M-4.2 -12.8H4.2M0.6 -12.8V-15.65M-4.2 -15.65H4.2M-4.2 -18.5H4.2M0.6 -18.5V-21.35M-4.2 -21.35H4.2M-4.2 -24.2H4.2M0.6 -24.2V-27.05M-4.2 -27.05H4.2M-4.2 -29.9H4.2M0.6 -29.9V-32.75M-4.2 -32.75H4.2M-4.2 -35.6H4.2M0.6 -35.6V-38.45M-4.2 -38.45H4.2M-4.2 -41.3H4.2M0.6 -41.3V-44.15M-4.2 -44.15H4.2M-4.2 -47H4.2M0.6 -47V-49.85M-4.2 -49.85H4.2M-4.2 -52.7H4.2M0.6 -52.7V-55.55M-4.2 -55.55H4.2M-4.2 -58.4H4.2M0.6 -58.4V-61.25M-4.2 -61.25H4.2M-4.2 -64.1H4.2M0.6 -64.1V-66.95M-4.2 -66.95H4.2M-4.2 -69.8H4.2M0.6 -69.8V-72.65M-4.2 -72.65H4.2M-4.2 -75.5H4.2M0.6 -75.5V-78.35M-4.2 -78.35H4.2M-4.2 -81.2H4.2M0.6 -81.2V-84.05M-4.2 -84.05H4.2M-4.2 -86.9H4.2M0.6 -86.9V-89.75M-4.2 -89.75H4.2M-4.2 -92.6H4.2M0.6 -92.6V-95.45M-4.2 -95.45H4.2M-4.2 -98.3H4.2M0.6 -98.3V-101.15M-4.2 -101.15H4.2M-4.2 -104H4.2M0.6 -104V-106.85M-4.2 -106.85H4.2M-4.2 -109.7H4.2M0.6 -109.7V-112.55M-4.2 -112.55H4.2" stroke="#b0b0b0" stroke-width="0.8" fill="none"/><path d="M-4.2 0V-113.9H4.2V0" fill="none" stroke="#231f20" stroke-width="2.2"/></g>
<text class="lt" transform="translate(488.9 552.7) scale(1.1 1)">b</text>
<g transform="translate(504.6 668.5)"><rect x="-4.2" y="-132.4" width="8.4" height="132.4" fill="url(#pAutumn)"/><path d="M-4.2 0V-132.4H4.2V0" fill="none" stroke="#231f20" stroke-width="2.2"/></g>
<text class="lt" transform="translate(504.6 533.8) scale(1.1 1)">a</text>
<path d="M374 525.5V668.5H589.2" stroke="#231f20" stroke-width="1.9" fill="none" stroke-linecap="square"/>
<path d="M366.7 525.5H374" stroke="#231f20" stroke-width="1.8"/>
<text class="tk" transform="translate(366.5 529.35) scale(1.06 1)">800</text>
<path d="M366.7 561.25H374" stroke="#231f20" stroke-width="1.8"/>
<text class="tk" transform="translate(366.5 565.1) scale(1.06 1)">600</text>
<path d="M366.7 597H374" stroke="#231f20" stroke-width="1.8"/>
<text class="tk" transform="translate(366.5 600.85) scale(1.06 1)">400</text>
<path d="M366.7 632.75H374" stroke="#231f20" stroke-width="1.8"/>
<text class="tk" transform="translate(366.5 636.6) scale(1.06 1)">200</text>
<path d="M366.7 668.5H374" stroke="#231f20" stroke-width="1.8"/>
<text class="tk" transform="translate(366.5 672.35) scale(1.06 1)">0</text>
<path d="M407.7 668.5V675.4" stroke="#231f20" stroke-width="1.8"/>
<text class="xl" transform="translate(407.7 685.9) scale(1.1 1)">S1</text>
<path d="M481.1 668.5V675.4" stroke="#231f20" stroke-width="1.8"/>
<text class="xl" transform="translate(481.1 685.9) scale(1.1 1)">S2</text>
<path d="M554.5 668.5V675.4" stroke="#231f20" stroke-width="1.8"/>
<text class="xl" transform="translate(554.5 685.9) scale(1.1 1)">S3</text>
<text class="al" transform="translate(481.7 706.7) scale(1 1)">Sites</text>
<text class="pl" transform="translate(375 521.4) scale(1.04 1)">(h)</text>
<text class="al" style="font-size:11.9px" transform="translate(327.6 597) rotate(-90) scale(0.98 1)">Mn (mg kg<tspan font-size="8.6" dy="-4.8">-1</tspan><tspan dy="4.8">)</tspan></text>
</g>
<g transform="translate(625.7 25)"><rect x="-6.5" y="-2.6" width="13" height="5.2" fill="#231f20" stroke="#231f20" stroke-width="2.4"/></g>
<text class="lg" transform="translate(641.7 28.8) scale(1.03 1)">Winter</text>
<g transform="translate(625.7 43.95)"><rect x="-6.5" y="-2.6" width="13" height="5.2" fill="url(#pSpring)" stroke="#231f20" stroke-width="2.4"/></g>
<text class="lg" transform="translate(641.7 47.75) scale(0.99 1)">Spring</text>
<g transform="translate(625.7 62.9)"><rect x="-6.5" y="-2.6" width="13" height="5.2" fill="#fff" stroke="#231f20" stroke-width="2.4"/></g>
<text class="lg" transform="translate(641.7 66.7) scale(0.97 1)">Summer</text>
<g transform="translate(625.7 81.85)"><rect x="-6.5" y="-2.6" width="13" height="5.2" fill="url(#pAutumn)" stroke="#231f20" stroke-width="2.4"/></g>
<text class="lg" transform="translate(641.7 85.65) scale(0.96 1)">Autumn</text>
</g></svg></body></html>
